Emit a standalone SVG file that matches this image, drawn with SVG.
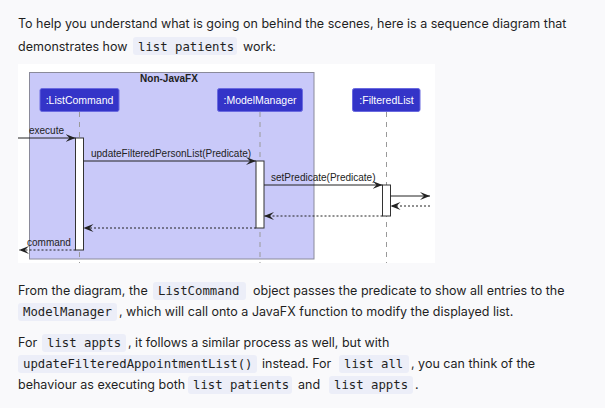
<svg xmlns="http://www.w3.org/2000/svg" width="605" height="408" viewBox="0 0 605 408">
<style>
.p{font-family:Inter,"Noto Sans",sans-serif;font-size:12.5px;fill:#1f1f1f}
.c{font-family:"DejaVu Sans Mono","Liberation Mono",monospace;font-size:12.3px;fill:#1f1f1f}
.cb{fill:#eceef8}
.lbl{font-family:"Liberation Sans",Arial,sans-serif;font-size:10px;fill:#222}
.pt{font-family:"Liberation Sans",Arial,sans-serif;font-size:10.5px;fill:#fff}
.pbox{fill:#3434c8;stroke:#6a6ae0;stroke-width:1}
.life{stroke:#999;stroke-width:1;stroke-dasharray:5,5;fill:none}
.act{fill:#fff;stroke:#333;stroke-width:1}
.msg{stroke:#222;stroke-width:1;fill:none;marker-end:url(#ah)}
.ret{stroke:#222;stroke-width:1;stroke-dasharray:2,2;fill:none;marker-end:url(#ah)}
</style>
<defs>
<marker id="ah" viewBox="0 0 10 8" refX="10" refY="4" markerWidth="10" markerHeight="8" markerUnits="userSpaceOnUse" orient="auto">
<path d="M0,0 L10,4 L0,8 L4,4 Z" fill="#222"/>
</marker>
</defs>
<rect x="0" y="0" width="605" height="408" fill="#f9f9fb"/>

<g id="intro">
<text class="p" x="18" y="28">To help you understand what is going on behind the scenes, here is a sequence diagram that</text>
<text class="p" x="18" y="50.5">demonstrates how</text>
<rect class="cb" x="133" y="37" width="104" height="18" rx="3"/>
<text class="c" x="138" y="50.5">list patients</text>
<text class="p" x="243" y="50.5">work:</text>
</g>

<rect x="18" y="64" width="417" height="199" fill="#fff"/>

<g id="group-nonjavafx">
<rect x="29.5" y="72.5" width="284.5" height="186.5" fill="#c9c9f9" stroke="#8a8a9a" stroke-width="1"/>
<text class="lbl" x="169" y="82" text-anchor="middle" font-weight="bold">Non-JavaFX</text>
</g>

<g id="lifelines">
<line class="life" x1="79.5" y1="112" x2="79.5" y2="263"/>
<line class="life" x1="260" y1="112" x2="260" y2="263"/>
<line class="life" x1="386.5" y1="112" x2="386.5" y2="263"/>
</g>

<g id="ListCommand">
<rect class="pbox" x="40" y="88.5" width="79" height="23" rx="2"/>
<text class="pt" x="79.5" y="104" text-anchor="middle">:ListCommand</text>
<rect class="act" x="75.5" y="138" width="8" height="112"/>
</g>

<g id="ModelManager">
<rect class="pbox" x="217.5" y="88.5" width="85" height="23" rx="2"/>
<text class="pt" x="260" y="104" text-anchor="middle">:ModelManager</text>
<rect class="act" x="256" y="161" width="8" height="67"/>
</g>

<g id="FilteredList">
<rect class="pbox" x="352.5" y="88.5" width="67.5" height="23" rx="2"/>
<text class="pt" x="386.5" y="104" text-anchor="middle">:FilteredList</text>
<rect class="act" x="382.5" y="185" width="8" height="31"/>
</g>

<g id="connectors">
<line class="msg" x1="18" y1="138" x2="75.5" y2="138"/>
<text class="lbl" x="29" y="134">execute</text>
<line class="msg" x1="83.5" y1="161" x2="256" y2="161"/>
<text class="lbl" x="91" y="157">updateFilteredPersonList(Predicate)</text>
<line class="msg" x1="264" y1="185" x2="382.5" y2="185"/>
<text class="lbl" x="271" y="181">setPredicate(Predicate)</text>
<line class="msg" x1="390.5" y1="196" x2="430" y2="196"/>
<line class="ret" x1="430" y1="206" x2="390.5" y2="206"/>
<line class="ret" x1="382.5" y1="216" x2="264" y2="216"/>
<line class="ret" x1="256" y1="228" x2="83.5" y2="228"/>
<line class="ret" x1="75.5" y1="250" x2="19" y2="250"/>
<text class="lbl" x="27" y="246">command</text>
</g>

<g id="explanation">
<text class="p" x="18" y="295">From the diagram, the</text>
<rect class="cb" x="153" y="282" width="93" height="18" rx="3"/>
<text class="c" x="158" y="295">ListCommand</text>
<text class="p" x="253" y="295">object passes the predicate to show all entries to the</text>

<rect class="cb" x="18" y="303" width="99" height="18" rx="3"/>
<text class="c" x="23" y="316">ModelManager</text>
<text class="p" x="119" y="316">, which will call onto a JavaFX function to modify the displayed list.</text>

<text class="p" x="18" y="347">For</text>
<rect class="cb" x="42" y="334" width="84" height="18" rx="3"/>
<text class="c" x="47" y="347">list appts</text>
<text class="p" x="128" y="347">, it follows a similar process as well, but with</text>

<rect class="cb" x="18" y="355" width="239" height="18" rx="3"/>
<text class="c" x="23" y="368">updateFilteredAppointmentList()</text>
<text class="p" x="262" y="368">instead. For</text>
<rect class="cb" x="339" y="355" width="70" height="18" rx="3"/>
<text class="c" x="344" y="368">list all</text>
<text class="p" x="411" y="368">, you can think of the</text>

<text class="p" x="18" y="389">behaviour as executing both</text>
<rect class="cb" x="188" y="376" width="104" height="18" rx="3"/>
<text class="c" x="193" y="389">list patients</text>
<text class="p" x="298" y="389">and</text>
<rect class="cb" x="329" y="376" width="84" height="18" rx="3"/>
<text class="c" x="334" y="389">list appts</text>
<text class="p" x="415" y="389">.</text>
</g>
</svg>
